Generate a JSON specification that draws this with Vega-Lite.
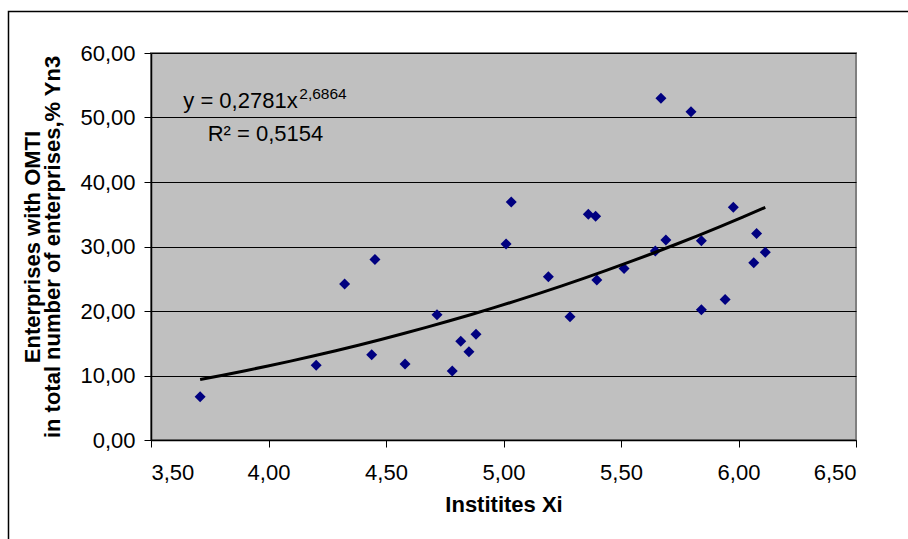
{
  "$schema": "https://vega.github.io/schema/vega-lite/v6.json",
  "width": 705,
  "height": 387,
  "autosize": {"type": "none"},
  "padding": {"left": 151, "top": 53, "right": 52, "bottom": 99},
  "background": "white",
  "config": {
    "font": "Liberation Sans",
    "view": {"fill": "#C0C0C0", "stroke": "#808080", "strokeWidth": 2}
  },
  "data": {
    "values": [
      {"x": 3.709, "y": 6.7},
      {"x": 4.203, "y": 11.6},
      {"x": 4.324, "y": 24.2},
      {"x": 4.453, "y": 28.0},
      {"x": 4.439, "y": 13.2},
      {"x": 4.581, "y": 11.8},
      {"x": 4.717, "y": 19.4},
      {"x": 4.782, "y": 10.7},
      {"x": 4.818, "y": 15.3},
      {"x": 4.853, "y": 13.7},
      {"x": 4.883, "y": 16.4},
      {"x": 5.011, "y": 30.4},
      {"x": 5.033, "y": 36.9},
      {"x": 5.191, "y": 25.3},
      {"x": 5.283, "y": 19.1},
      {"x": 5.361, "y": 35.0},
      {"x": 5.392, "y": 34.7},
      {"x": 5.397, "y": 24.8},
      {"x": 5.513, "y": 26.6},
      {"x": 5.646, "y": 29.3},
      {"x": 5.670, "y": 53.0},
      {"x": 5.691, "y": 31.0},
      {"x": 5.798, "y": 50.9},
      {"x": 5.842, "y": 30.9},
      {"x": 5.842, "y": 20.2},
      {"x": 5.943, "y": 21.8},
      {"x": 5.978, "y": 36.1},
      {"x": 6.065, "y": 27.5},
      {"x": 6.077, "y": 32.0},
      {"x": 6.114, "y": 29.1}
    ]
  },
  "layer": [
    {
      "data": {"values": [{}]},
      "mark": {"type": "rect", "fill": null, "stroke": "#000000", "strokeWidth": 1.5, "clip": false},
      "encoding": {
        "x": {"datum": 2.8936, "type": "quantitative", "scale": {"domain": [3.5, 6.5], "nice": false, "zero": false}},
        "x2": {"datum": 8},
        "y": {"datum": 66.43, "type": "quantitative", "scale": {"domain": [0, 60], "nice": false}},
        "y2": {"datum": -20}
      }
    },
    {
      "mark": {"type": "point", "shape": "diamond", "filled": true, "color": "#000080", "size": 121, "opacity": 1},
      "encoding": {
        "x": {
          "field": "x", "type": "quantitative",
          "scale": {"domain": [3.5, 6.5], "nice": false, "zero": false},
          "axis": {
            "values": [3.5, 4, 4.5, 5, 5.5, 6, 6.5],
            "labelExpr": "replace(format(datum.value, '.2f'), '.', ',')",
            "grid": false,
            "domainColor": "#000000", "domainWidth": 1.5,
            "tickColor": "#000000", "tickSize": 7, "tickWidth": 1,
            "labelFontSize": 22, "labelColor": "#000000", "labelPadding": 15,
            "title": "Institites Xi",
            "titleFontSize": 22, "titleFontWeight": "bold", "titleColor": "#000000", "titlePadding": 11
          }
        },
        "y": {
          "field": "y", "type": "quantitative",
          "scale": {"domain": [0, 60], "nice": false},
          "axis": {
            "values": [0, 10, 20, 30, 40, 50, 60],
            "labelExpr": "replace(format(datum.value, '.2f'), '.', ',')",
            "grid": true, "gridColor": "#000000", "gridWidth": 1,
            "domainColor": "#000000", "domainWidth": 1.5,
            "tickColor": "#000000", "tickSize": 7, "tickWidth": 1,
            "labelFontSize": 22, "labelColor": "#000000", "labelPadding": 9,
            "title": ["Enterprises with OMTI", "in total number of enterprises,% Yn3"],
            "titleFontSize": 22, "titleFontWeight": "bold", "titleColor": "#000000",
            "titlePadding": 15, "titleLineHeight": 20
          }
        }
      }
    },
    {
      "transform": [{"regression": "y", "on": "x", "method": "pow"}],
      "mark": {"type": "line", "color": "#000000", "strokeWidth": 3},
      "encoding": {
        "x": {"field": "x", "type": "quantitative"},
        "y": {"field": "y", "type": "quantitative"}
      }
    },
    {
      "data": {"values": [{}]},
      "mark": {"type": "text", "align": "left", "baseline": "alphabetic", "fontSize": 22, "fontWeight": "normal", "fill": "#000000"},
      "encoding": {
        "x": {"datum": 3.6374, "type": "quantitative"},
        "y": {"datum": 51.43, "type": "quantitative"},
        "text": {"value": "y = 0,2781x"}
      }
    },
    {
      "data": {"values": [{}]},
      "mark": {"type": "text", "align": "left", "baseline": "alphabetic", "fontSize": 15.5, "fontWeight": "normal", "fill": "#000000"},
      "encoding": {
        "x": {"datum": 4.131, "type": "quantitative"},
        "y": {"datum": 52.82, "type": "quantitative"},
        "text": {"value": "2,6864"}
      }
    },
    {
      "data": {"values": [{}]},
      "mark": {"type": "text", "align": "left", "baseline": "alphabetic", "fontSize": 22, "fontWeight": "normal", "fill": "#000000"},
      "encoding": {
        "x": {"datum": 3.741, "type": "quantitative"},
        "y": {"datum": 46.4, "type": "quantitative"},
        "text": {"value": "R² = 0,5154"}
      }
    }
  ]
}
